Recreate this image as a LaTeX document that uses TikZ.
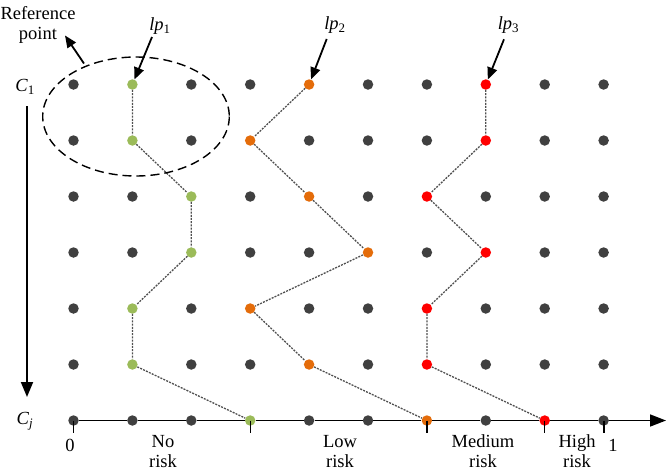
\documentclass[tikz,border=0pt]{standalone}
\usepackage{fontspec}
\setmainfont{Liberation Serif}
\usetikzlibrary{arrows.meta}
\definecolor{dk}{HTML}{404040}
\definecolor{gn}{HTML}{9BBB59}
\definecolor{og}{HTML}{E46C0A}
\definecolor{rd}{HTML}{FF0000}
\definecolor{cn}{HTML}{505050}
\tikzset{
  dot/.style={circle,inner sep=0pt,minimum size=10.5pt,draw=none},
  conn/.style={draw=cn,line width=1.3pt,dash pattern=on 2pt off 1.2pt},
  arr/.style={line width=1.8pt,-{Triangle[length=12pt,width=10pt]}},
  bigarr/.style={line width=1.9pt,-{Triangle[length=15pt,width=12pt]}},
  lbl/.style={font=\fontsize{18.5}{20}\selectfont,inner sep=0pt,align=center},
  tick/.style={line width=1.3pt}
}
\begin{document}
\begin{tikzpicture}[x=1pt,y=-1pt]
\useasboundingbox (0,0) rectangle (666,472);
% dots
\foreach \r/\row in {
  0/{dk,gn,dk,dk,og,dk,dk,rd,dk,dk},
  1/{dk,gn,dk,og,dk,dk,dk,rd,dk,dk},
  2/{dk,dk,gn,dk,og,dk,rd,dk,dk,dk},
  3/{dk,dk,gn,dk,dk,og,dk,rd,dk,dk},
  4/{dk,gn,dk,og,dk,dk,rd,dk,dk,dk},
  5/{dk,gn,dk,dk,og,dk,rd,dk,dk,dk},
  6/{dk,dk,dk,gn,dk,dk,og,dk,rd,dk}}{
  \foreach \s [count=\c from 0] in \row {
    \node[dot,fill=\s] (d-\c-\r) at ({73.5+58.9*\c},{84.5+56*\r}) {};
  }
}
% axis
\coordinate (axend) at (666,420.5);
\foreach \a [remember=\a as \b (initially 0)] in {1,...,9} {
  \draw[line width=1.6pt] (d-\b-6) -- (d-\a-6);
}
\draw[line width=1.6pt,-{Triangle[length=16pt,width=12pt]}] (d-9-6) -- (axend);
\foreach \c in {0,3,6,8} { \draw[tick] (d-\c-6.center) -- ++(0,12.5); }
\draw[line width=2.2pt] (d-9-6.center) -- ++(0,12.5);
% paths
\draw[conn] (d-1-0) -- (d-1-1) -- (d-2-2) -- (d-2-3) -- (d-1-4) -- (d-1-5) -- (d-3-6);
\draw[conn] (d-4-0) -- (d-3-1) -- (d-4-2) -- (d-5-3) -- (d-3-4) -- (d-4-5) -- (d-6-6);
\draw[conn] (d-7-0) -- (d-7-1) -- (d-6-2) -- (d-7-3) -- (d-6-4) -- (d-6-5) -- (d-8-6);
% ellipse
\draw[line width=1.4pt,dash pattern=on 9pt off 5pt] (136,116.5) ellipse [x radius=93.3,y radius=59.5];
\coordinate (reftail) at (84,63.5);
% labels
\node[lbl] (ref) at (38,25) {Reference\\point};
\draw[arr] (reftail) -- (65,35.5) coordinate (reftip);
\node[lbl] (c1) at (25,87) {\textit{C}\textsubscript{1}};
\node[lbl] (cj) at (25,421) {\textit{C}\textsubscript{\textit{j}}};
\coordinate (vtop) at (27,106);
\coordinate (vbot) at (27,397);
\draw[bigarr] (vtop) -- (vbot);
\node[lbl] (lp1) at (160,26) {\textit{lp}\textsubscript{1}};
\node[lbl] (lp2) at (335,25) {\textit{lp}\textsubscript{2}};
\node[lbl] (lp3) at (508.5,25) {\textit{lp}\textsubscript{3}};
\coordinate (t1) at (152,37);
\coordinate (t2) at (326.7,39);
\coordinate (t3) at (504,39.3);
\draw[arr] (t1) -- (d-1-0);
\draw[arr] (t2) -- (d-4-0);
\draw[arr] (t3) -- (d-7-0);
\node[lbl] (zero) at (70,445) {0};
\node[lbl] (one) at (613,445) {1};
\node[lbl] (norisk) at (163,451.5) {No\\risk};
\node[lbl] (lowrisk) at (340,451.5) {Low\\risk};
\node[lbl] (medrisk) at (483,451.5) {Medium\\risk};
\node[lbl] (highrisk) at (577,451.5) {High\\risk};
\end{tikzpicture}
\end{document}
